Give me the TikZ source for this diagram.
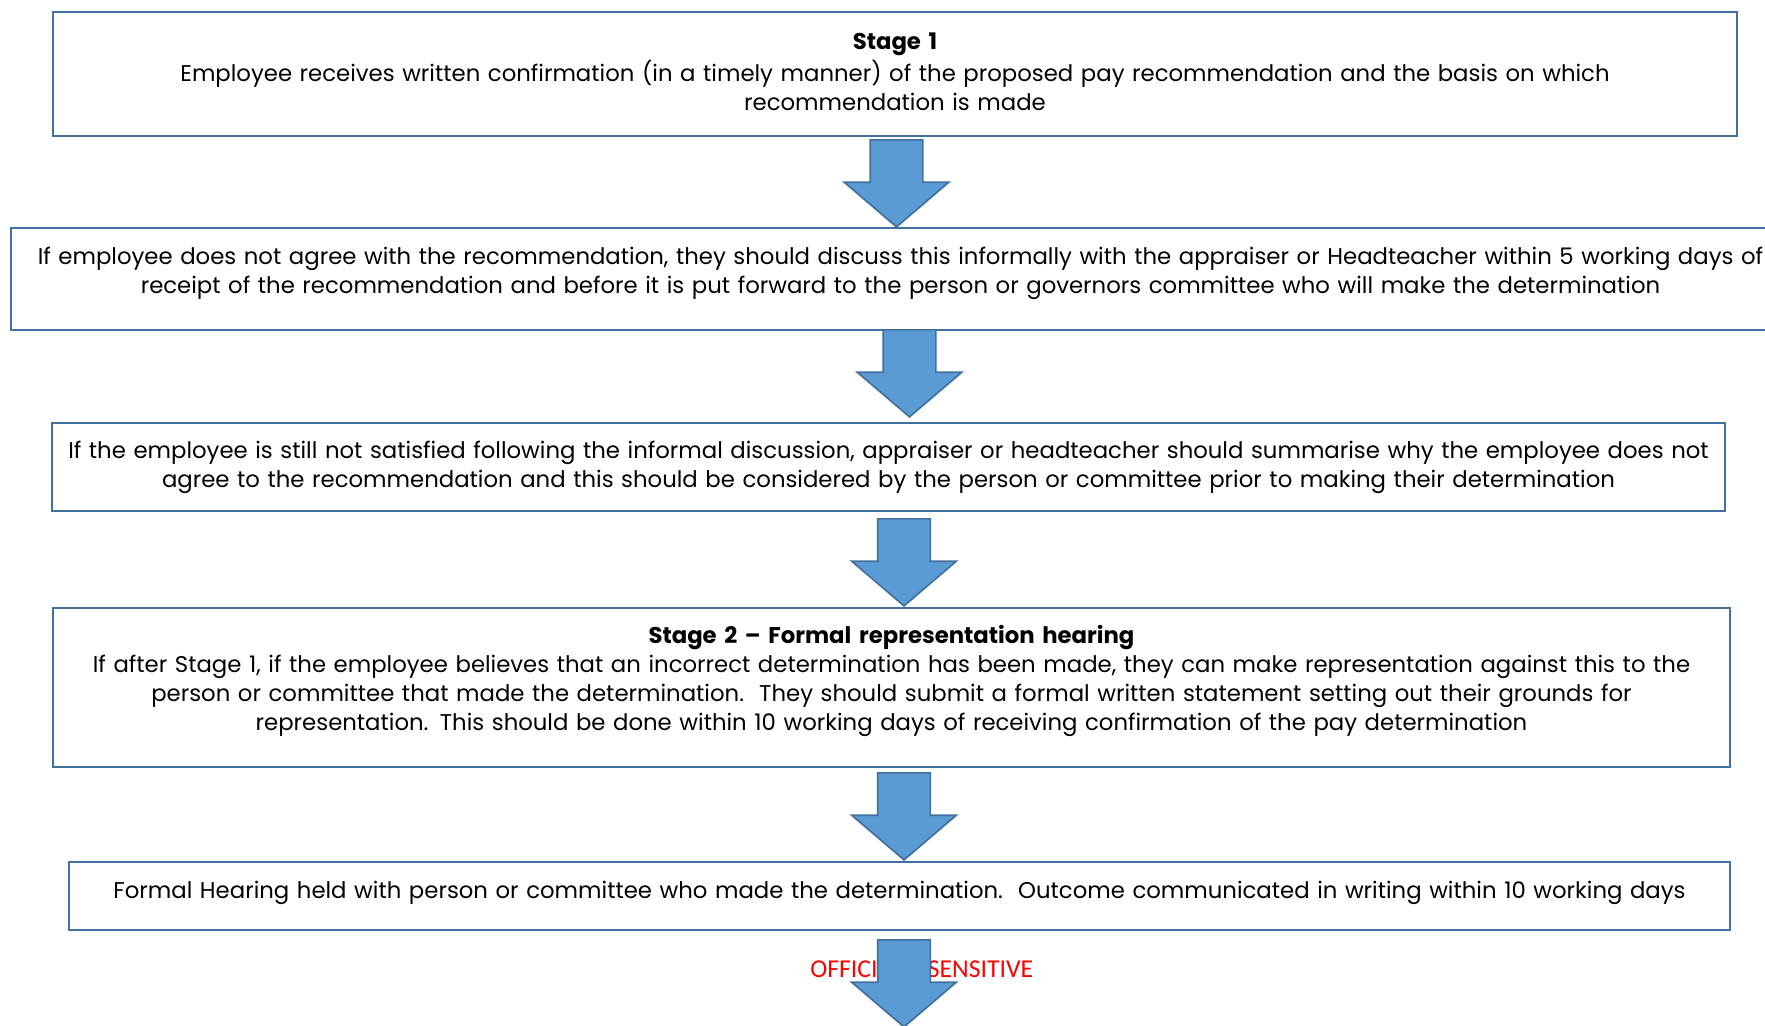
\documentclass[tikz,border=0pt]{standalone}
\usepackage{fontspec}
\setmainfont{Poppins}
\newfontfamily\markfont{Carlito}
\usetikzlibrary{shapes.arrows}
\definecolor{boxline}{HTML}{41719C}
\definecolor{arrowfill}{HTML}{5B9BD5}
\definecolor{markred}{HTML}{FF0000}

\begin{document}
\begin{tikzpicture}[x=0.025cm,y=-0.025cm,
  box node/.style={rectangle,draw=boxline,line width=1.8pt,align=center,inner sep=0pt,
    font=\fontsize{16.2}{20.6}\selectfont},
  lift/.style={execute at end node={\endgraf\vspace*{#1}}},
  down node/.style={single arrow,draw=boxline,fill=arrowfill,line width=1.2pt,anchor=tip,
    shape border rotate=270,inner sep=0.6375cm,minimum height=2.175cm,minimum width=2.575cm,
    single arrow head extend=0.65cm,single arrow tip angle=99}]

  \clip (0,0) rectangle (1765,1026);

  \node[box node,text width=42.1cm,minimum width=42.1cm,minimum height=3.1cm,lift=0.1cm] (s1) at (895,74)
    {\textbf{Stage 1}\\[2pt]Employee receives written confirmation (in a timely manner) of the proposed pay recommendation and the basis on which\\recommendation is made};
  \node[box node,text width=44.475cm,minimum width=44.475cm,minimum height=2.55cm,lift=0.28cm] (inf) at (900.5,279)
    {If employee does not agree with the recommendation, they should discuss this informally with the appraiser or Headteacher within 5 working days of\\receipt of the recommendation and before it is put forward to the person or governors committee who will make the determination};
  \node[box node,text width=41.825cm,minimum width=41.825cm,minimum height=2.2cm] (sum) at (888.5,467)
    {If the employee is still not satisfied following the informal discussion, appraiser or headteacher should summarise why the employee does not\\agree to the recommendation and this should be considered by the person or committee prior to making their determination};
  \node[box node,text width=41.925cm,minimum width=41.925cm,minimum height=3.975cm,lift=0.35cm] (s2) at (891.5,687.5)
    {\textbf{Stage 2 – Formal representation hearing}\\If after Stage 1, if the employee believes that an incorrect determination has been made, they can make representation against this to the\\person or committee that made the determination.\ \ They should submit a formal written statement setting out their grounds for\\representation. This should be done within 10 working days of receiving confirmation of the pay determination};
  \node[box node,text width=41.525cm,minimum width=41.525cm,minimum height=1.7cm,lift=0.17cm] (hear) at (899.5,896)
    {Formal Hearing held with person or committee who made the determination.\ \ Outcome communicated in writing within 10 working days};

  \node[text=markred,font=\markfont\fontsize{18.3}{22}\selectfont,anchor=base west,inner sep=0pt] (mark) at (810,977) {OFFICIAL – SENSITIVE};

  \node[down node] (a1) at (896.5,228) {};
  \node[down node] (a2) at (909.5,418) {};
  \node[down node] (a3) at (904,607) {};
  \node[down node] (a4) at (904,861) {};
  \node[down node] (a5) at (904,1028) {};
\end{tikzpicture}
\end{document}
